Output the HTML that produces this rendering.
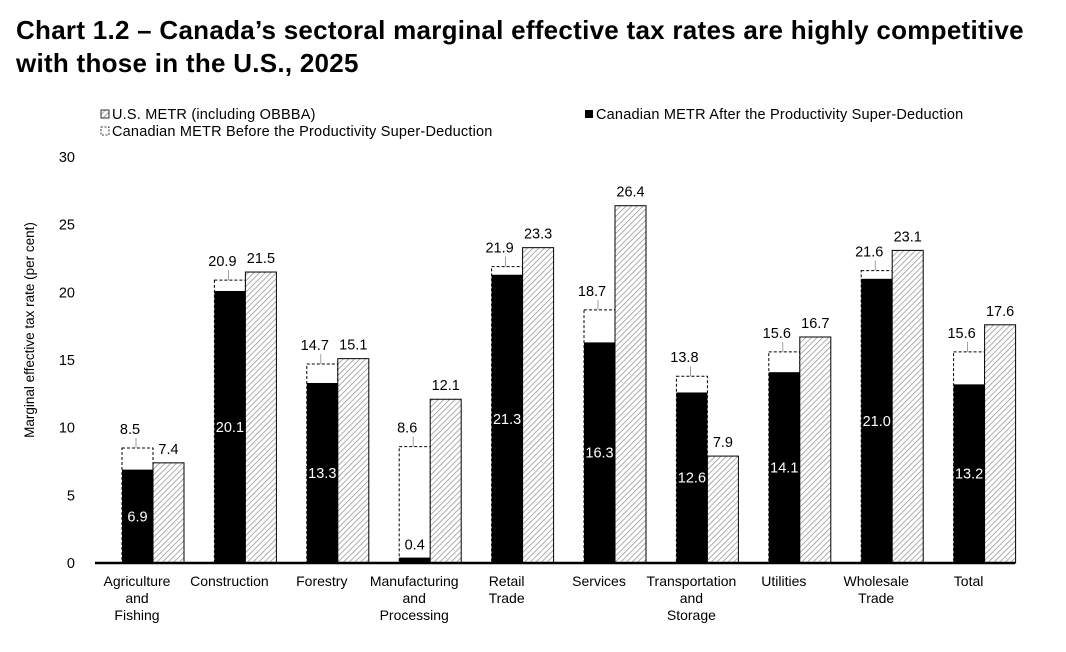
<!DOCTYPE html>
<html><head><meta charset="utf-8"><style>
body{margin:0;background:#fff;width:1066px;height:652px;overflow:hidden;font-family:"Liberation Sans",sans-serif}
h1{position:absolute;left:16px;top:14px;margin:0;font-size:26px;line-height:33px;font-weight:bold;color:#000;letter-spacing:0.27px}
</style></head><body>
<h1>Chart 1.2 – Canada’s sectoral marginal effective tax rates are highly competitive<br>with those in the U.S., 2025</h1>
<svg id="c" width="1066" height="652" style="position:absolute;left:0;top:0">
<defs><pattern id="hatch" width="4" height="4" patternUnits="userSpaceOnUse" patternTransform="rotate(45)"><rect width="4" height="4" fill="#fff"/><line x1="0" y1="0" x2="0" y2="4" stroke="#8a8a8a" stroke-width="1.4"/></pattern></defs>
</svg>
<script>
const categories=[["Agriculture","and","Fishing"],["Construction"],["Forestry"],["Manufacturing","and","Processing"],["Retail","Trade"],["Services"],["Transportation","and","Storage"],["Utilities"],["Wholesale","Trade"],["Total"]];
const usMetr=[7.4,21.5,15.1,12.1,23.3,26.4,7.9,16.7,23.1,17.6];
const caBefore=[8.5,20.9,14.7,8.6,21.9,18.7,13.8,15.6,21.6,15.6];
const caAfter=[6.9,20.1,13.3,0.4,21.3,16.3,12.6,14.1,21.0,13.2];
const yTicks=[0,5,10,15,20,25,30];
const svg=document.getElementById('c');const NS='http://www.w3.org/2000/svg';
function el(t,a,txt){const e=document.createElementNS(NS,t);for(const k in a)e.setAttribute(k,a[k]);if(txt!==undefined)e.textContent=txt;svg.appendChild(e);return e;}
const x0=91,cw=92.4,y0=563,yMax=30,yTop=157;
const Y=v=>y0-(v/yMax)*(y0-yTop);
const X=i=>x0+i*cw;
yTicks.forEach(t=>{const e=el('text',{x:75,y:Y(t)+5,'text-anchor':'end','font-size':14.5,fill:'#000'},t);

});
const yt=el('text',{x:34,y:330,'text-anchor':'middle','font-size':13.5,transform:'rotate(-90 34 330)'},'Marginal effective tax rate (per cent)');


categories.forEach((c,i)=>{
 const bx=X(i)+31,bw=31;
 const b1=el('rect',{x:bx,y:Y(caBefore[i]),width:bw,height:Y(0)-Y(caBefore[i]),fill:'#fff',stroke:'#000','stroke-width':1,'stroke-dasharray':'3,2'});
 
 
 const b2=el('rect',{x:bx,y:Y(caAfter[i]),width:bw,height:Y(0)-Y(caAfter[i]),fill:'#000'});
 
 
 const b3=el('rect',{x:bx+bw,y:Y(usMetr[i]),width:bw,height:Y(0)-Y(usMetr[i]),fill:'url(#hatch)',stroke:'#000','stroke-width':1});
 
 
 const l1=el('text',{x:bx+bw*1.5,y:Y(usMetr[i])-9,'text-anchor':'middle','font-size':14.5},usMetr[i].toFixed(1));
 
 
 el('line',{x1:bx+14,y1:Y(caBefore[i]),x2:bx+14,y2:Y(caBefore[i])-10,stroke:'#888','stroke-width':0.8});
 const l2=el('text',{x:bx+8,y:Y(caBefore[i])-14,'text-anchor':'middle','font-size':14.5},caBefore[i].toFixed(1));
 
 
 const small=caAfter[i]<2;
 const ay=small?Y(caAfter[i])-8:(Y(caAfter[i])+y0)/2+5;
 const l3=el('text',{x:bx+bw/2,y:ay,'text-anchor':'middle','font-size':14.5,fill:small?'#000':'#fff'},caAfter[i].toFixed(1));
 
 
 c.forEach((s,j)=>{const t=el('text',{x:X(i)+46,y:586+j*17,'text-anchor':'middle','font-size':14},s);
 
 });
});
const ax=el('line',{x1:95,y1:y0,x2:1015,y2:y0,stroke:'#000','stroke-width':2.5});


function legend(x,y,type,txt,name){
 if(type==='us')el('rect',{x:x,y:y-9,width:8,height:8,fill:'url(#hatch)',stroke:'#000','stroke-width':0.8});
 if(type==='after')el('rect',{x:x,y:y-9,width:8,height:8,fill:'#000'});
 if(type==='before')el('rect',{x:x,y:y-9,width:8,height:8,fill:'#fff',stroke:'#000','stroke-width':0.8,'stroke-dasharray':'2,1.5'});
 const t=el('text',{x:x+11,y:y,'font-size':14.5,'letter-spacing':'0.2'},txt);
 
 
}
legend(101,119,'us','U.S. METR (including OBBBA)','legend-us');
legend(585,119,'after','Canadian METR After the Productivity Super-Deduction','legend-after');
legend(101,136,'before','Canadian METR Before the Productivity Super-Deduction','legend-before');
</script>
</body></html>
